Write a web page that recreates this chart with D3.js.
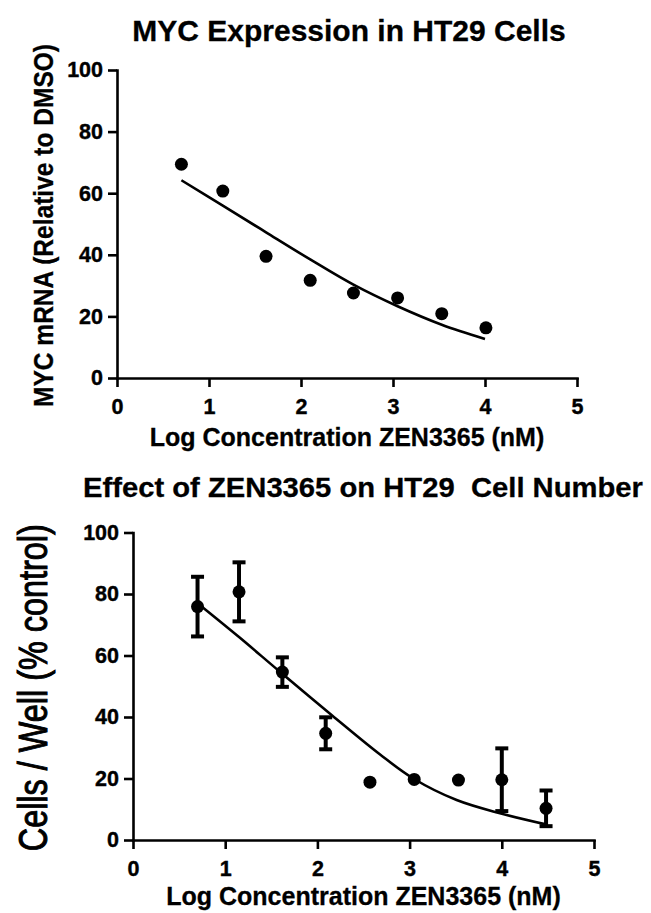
<!DOCTYPE html>
<html>
<head>
<meta charset="utf-8">
<script src="https://cdn.jsdelivr.net/npm/d3@7"></script>
<style>
    body { margin: 0; background: #fff; }
    svg { display: block; }
    text { font-family: "Liberation Sans", Arial, sans-serif; font-weight: bold; fill: #000; }
</style>
</head>
<body>
<div id="chart"></div>
<script>
// top panel: MYC mRNA vs log concentration
var mycLogConc = [0.70, 1.15, 1.62, 2.10, 2.57, 3.05, 3.53, 4.01];
var mycMrna = [69.4, 60.7, 39.5, 31.7, 27.6, 26.0, 20.9, 16.3];
var mycFitX = [0.70, 1.15, 1.62, 2.10, 2.57, 3.05, 3.53, 4.00];
var mycFitY = [64.2, 56.0, 47.3, 38.5, 30.3, 23.3, 17.3, 12.7];

// bottom panel: cells / well vs log concentration
var cellLogConc = [0.70, 1.15, 1.62, 2.09, 2.57, 3.05, 3.53, 4.00, 4.48];
var cellPct = [75.9, 80.7, 54.6, 34.7, 18.8, 19.7, 19.5, 19.6, 10.3];
var cellErr = [9.7, 9.6, 4.8, 5.2, 0, 0, 0, 10.2, 5.8];
var cellFitX = [0.70, 1.15, 1.59, 2.16, 2.68, 3.04, 3.51, 3.98, 4.49];
var cellFitY = [77.0, 66.0, 54.8, 40.5, 27.8, 20.0, 13.0, 8.7, 5.0];

var xTicks = [0, 1, 2, 3, 4, 5];
var yTicks = [0, 20, 40, 60, 80, 100];

var svg = d3.select("#chart")
    .append("svg")
    .attr("width", 651)
    .attr("height", 913);

drawPanel({
    title: "MYC Expression in HT29 Cells",
    titleX: 349, titleY: 41, titleSize: 30, titleLen: null,
    yLabel: "MYC mRNA (Relative to DMSO)",
    yLabelX: 53, yLabelSize: 27, yLabelLen: 363, yLabelWeight: "bold",
    xLabel: "Log Concentration ZEN3365 (nM)",
    xLabelY: 446,
    left: 117, right: 577, top: 70, bottom: 378,
    xs: mycLogConc, ys: mycMrna, errs: null,
    fitX: mycFitX, fitY: mycFitY
});

drawPanel({
    title: "Effect of ZEN3365 on HT29\u00a0 Cell Number",
    titleX: 363, titleY: 497, titleSize: 28, titleLen: 560,
    yLabel: "Cells / Well (% control)",
    yLabelX: 47, yLabelSize: 40, yLabelLen: 327, yLabelWeight: "normal",
    xLabel: "Log Concentration ZEN3365 (nM)",
    xLabelY: 905,
    left: 133, right: 594, top: 532.5, bottom: 840,
    xs: cellLogConc, ys: cellPct, errs: cellErr,
    fitX: cellFitX, fitY: cellFitY
});

function drawPanel(p) {
    var x = d3.scaleLinear().domain([0, 5]).range([p.left, p.right]);
    var y = d3.scaleLinear().domain([0, 100]).range([p.bottom, p.top]);
    var g = svg.append("g");

    // x axis
    var xa = g.append("g")
        .attr("transform", "translate(0," + p.bottom + ")")
        .call(d3.axisBottom(x).tickValues(xTicks).tickSize(9).tickSizeOuter(0).tickFormat(d3.format("d")));
    xa.selectAll("text").attr("y", 21);

    // y axis
    var ya = g.append("g")
        .attr("transform", "translate(" + p.left + ",0)")
        .call(d3.axisLeft(y).tickValues(yTicks).tickSize(9).tickSizeOuter(0).tickPadding(5));

    g.selectAll(".domain, .tick line")
        .attr("stroke", "#000")
        .attr("stroke-width", 2.6);
    g.selectAll(".domain").attr("stroke-linecap", "square");
    g.selectAll(".tick text")
        .attr("font-size", 21.5)
        .attr("stroke", "#000")
        .attr("stroke-width", 0.4);

    // fitted curve
    var line = d3.line()
        .x(function (d, i) { return x(p.fitX[i]); })
        .y(function (d) { return y(d); })
        .curve(d3.curveCatmullRom.alpha(0.5));
    g.append("path")
        .datum(p.fitY)
        .attr("d", line)
        .attr("fill", "none")
        .attr("stroke", "#000")
        .attr("stroke-width", 2.6);

    // error bars
    if (p.errs) {
        var eb = g.append("g").selectAll("g")
            .data(p.ys.map(function (v, i) { return {x: p.xs[i], y: v, e: p.errs[i]}; })
                .filter(function (d) { return d.e > 0; }))
            .enter().append("g")
            .attr("stroke", "#000")
            .attr("stroke-width", 4);
        eb.append("line")
            .attr("x1", function (d) { return x(d.x); })
            .attr("x2", function (d) { return x(d.x); })
            .attr("y1", function (d) { return y(d.y + d.e); })
            .attr("y2", function (d) { return y(d.y - d.e); });
        eb.append("line")
            .attr("x1", function (d) { return x(d.x) - 6.5; })
            .attr("x2", function (d) { return x(d.x) + 6.5; })
            .attr("y1", function (d) { return y(d.y + d.e); })
            .attr("y2", function (d) { return y(d.y + d.e); });
        eb.append("line")
            .attr("x1", function (d) { return x(d.x) - 6.5; })
            .attr("x2", function (d) { return x(d.x) + 6.5; })
            .attr("y1", function (d) { return y(d.y - d.e); })
            .attr("y2", function (d) { return y(d.y - d.e); });
    }

    // dots
    g.append("g").selectAll("circle")
        .data(p.ys)
        .enter()
        .append("circle")
        .attr("cx", function (d, i) { return x(p.xs[i]); })
        .attr("cy", function (d) { return y(d); })
        .attr("r", 6.5)
        .attr("fill", "#000");

    // title
    var t = g.append("text")
        .attr("x", p.titleX)
        .attr("y", p.titleY)
        .attr("text-anchor", "middle")
        .attr("font-size", p.titleSize)
        .attr("stroke", "#000")
        .attr("stroke-width", 0.3)
        .text(p.title);
    if (p.titleLen) t.attr("textLength", p.titleLen).attr("lengthAdjust", "spacingAndGlyphs");

    // x label
    g.append("text")
        .attr("x", (p.left + p.right) / 2)
        .attr("y", p.xLabelY)
        .attr("text-anchor", "middle")
        .attr("font-size", 25)
        .attr("stroke", "#000")
        .attr("stroke-width", 0.3)
        .text(p.xLabel);

    // y label
    g.append("text")
        .attr("transform", "translate(" + p.yLabelX + "," + ((p.top + p.bottom) / 2 + 1.5) + ") rotate(-90)")
        .attr("text-anchor", "middle")
        .attr("font-size", p.yLabelSize)
        .style("font-weight", p.yLabelWeight)
        .attr("stroke", "#000")
        .attr("stroke-width", p.yLabelWeight === "bold" ? 0.3 : 1)
        .attr("textLength", p.yLabelLen)
        .attr("lengthAdjust", "spacingAndGlyphs")
        .text(p.yLabel);
}
</script>
</body>
</html>
